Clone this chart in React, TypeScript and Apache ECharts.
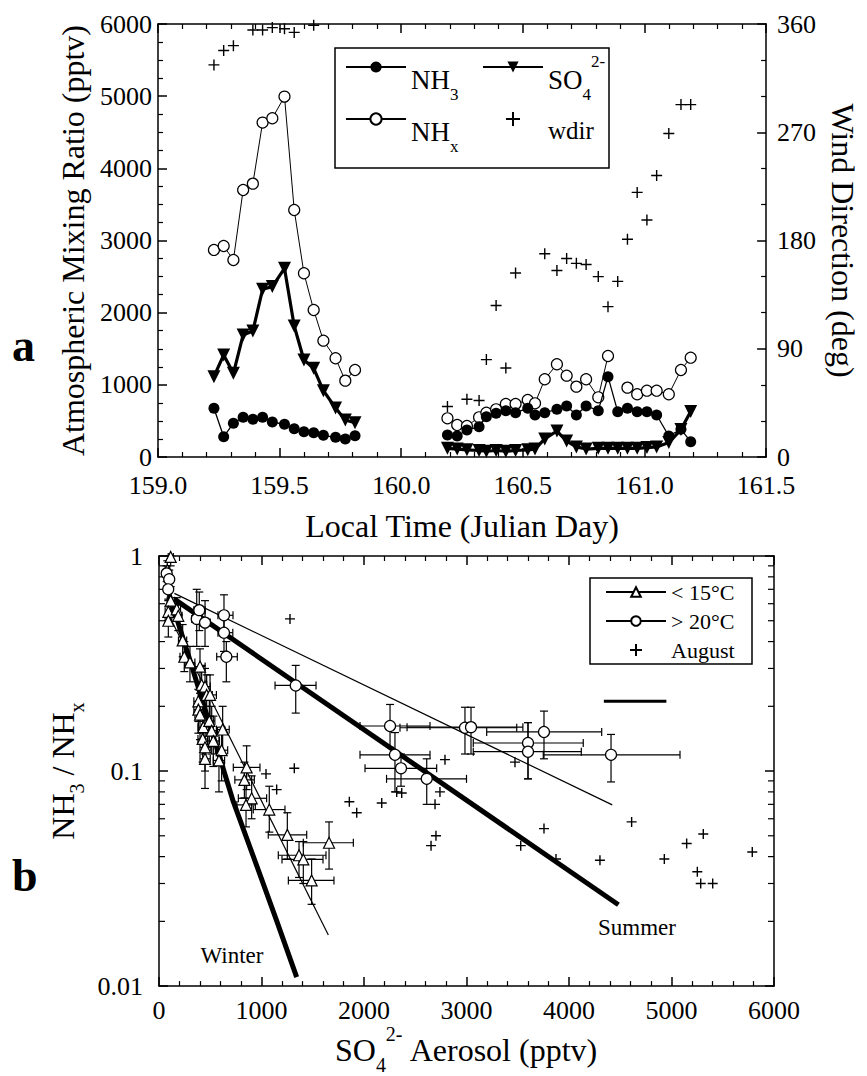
import React, { useEffect, useRef } from 'react';
import * as echarts from 'echarts';

const FONT = 'Liberation Serif, Times New Roman, serif';

// ---------------- Panel a : time series ----------------
const dayA1 = [159.23, 159.27, 159.31, 159.35, 159.39, 159.43, 159.47, 159.52, 159.56, 159.60, 159.64, 159.68, 159.73, 159.77, 159.81];
const nh3A1 = [675, 281, 467, 550, 522, 550, 485, 453, 392, 351, 337, 300, 273, 250, 296];
const nhxA1 = [2869, 2924, 2730, 3700, 3788, 4634, 4694, 4994, 3423, 2546, 2037, 1612, 1368, 1058, 1206];
const so4A1 = [1113, 1414, 1160, 1691, 1746, 2324, 2361, 2615, 1816, 1344, 1229, 919, 679, 513, 475];
const wdirA1 = [326, 338, 342, null, 355, 355, 357, 356, 353, null, 359, null, null, null, null];

const dayA2 = [160.19, 160.23, 160.27, 160.32, 160.35, 160.39, 160.43, 160.47, 160.52, 160.55, 160.59, 160.64, 160.68, 160.72, 160.76, 160.81, 160.85, 160.89, 160.93, 160.97, 161.01, 161.05, 161.10, 161.15, 161.19];
const nh3A2 = [305, 291, 374, 420, 559, 605, 642, 614, 675, 582, 614, 661, 707, 582, 707, 642, 1113, 628, 675, 628, 628, 582, 291, 383, 212];
const nhxA2 = [536, 443, 430, 550, 614, 661, 735, 735, 790, 744, 1077, 1285, 1127, 975, 1077, 827, 1400, null, 961, 869, 919, 919, 869, 1206, 1376];
const so4A2 = [120, 110, 100, 90, 80, 90, 80, 90, 100, 110, 250, 360, 220, 140, 110, 120, 120, 120, 120, 120, 130, 140, 200, 380, 630];
const wdirA2 = [42, null, 48, 47, 81, 126, 74, 153, null, null, 169, 155, 165, 161, 160, 150, 125, 146, 181, 220, 197, 234, 269, 293, 293];

// ---------------- Panel b : NH3/NHx vs SO4 ----------------
// rows: [SO4, ratio, SO4 low, SO4 high, ratio low, ratio high]
const coldPts = [
  [114, 0.99, 90, 140, 0.90, 1.0],
  [81, 0.86, 60, 105, 0.78, 0.95],
  [114, 0.62, 80, 150, 0.55, 0.72],
  [91, 0.55, 60, 120, 0.48, 0.63],
  [173, 0.565, 140, 210, 0.50, 0.64],
  [91, 0.50, 60, 125, 0.42, 0.58],
  [188, 0.527, 150, 225, 0.45, 0.60],
  [231, 0.405, 190, 270, 0.34, 0.48],
  [247, 0.34, 205, 290, 0.29, 0.40],
  [302, 0.32, 255, 350, 0.26, 0.38],
  [400, 0.306, 350, 450, 0.25, 0.37],
  [416, 0.252, 370, 465, 0.20, 0.31],
  [449, 0.247, 400, 500, 0.20, 0.30],
  [465, 0.226, 410, 520, 0.18, 0.28],
  [498, 0.226, 440, 560, 0.18, 0.28],
  [384, 0.211, 340, 430, 0.17, 0.26],
  [384, 0.193, 340, 430, 0.15, 0.24],
  [400, 0.183, 350, 450, 0.14, 0.23],
  [432, 0.16, 380, 485, 0.12, 0.20],
  [426, 0.141, 380, 475, 0.11, 0.18],
  [449, 0.129, 400, 500, 0.10, 0.165],
  [449, 0.114, 400, 500, 0.083, 0.145],
  [491, 0.171, 440, 545, 0.13, 0.22],
  [514, 0.154, 460, 570, 0.12, 0.20],
  [530, 0.138, 475, 590, 0.105, 0.18],
  [611, 0.125, 550, 670, 0.09, 0.16],
  [585, 0.112, 530, 640, 0.08, 0.15],
  [621, 0.156, 560, 685, 0.12, 0.20],
  [855, 0.104, 725, 985, 0.082, 0.131],
  [833, 0.091, 740, 930, 0.075, 0.11],
  [904, 0.0747, 774, 1050, 0.06, 0.095],
  [849, 0.0696, 760, 940, 0.055, 0.088],
  [1076, 0.0662, 920, 1229, 0.052, 0.085],
  [1252, 0.0505, 1066, 1441, 0.039, 0.064],
  [1366, 0.0406, 1164, 1629, 0.032, 0.047],
  [1408, 0.0388, 1200, 1600, 0.030, 0.047],
  [1489, 0.031, 1262, 1707, 0.024, 0.039],
  [1659, 0.0464, 1408, 1896, 0.035, 0.058],
];
const warmPts = [
  [75, 0.83, 40, 110, 0.76, 0.90],
  [100, 0.78, 60, 140, 0.70, 0.86],
  [90, 0.70, 50, 130, 0.62, 0.78],
  [368, 0.51, 320, 420, 0.38, 0.70],
  [393, 0.56, 340, 450, 0.45, 0.68],
  [449, 0.49, 400, 500, 0.38, 0.62],
  [634, 0.53, 575, 722, 0.44, 0.66],
  [634, 0.44, 575, 720, 0.36, 0.55],
  [657, 0.34, 563, 764, 0.26, 0.40],
  [1334, 0.25, 1132, 1532, 0.186, 0.31],
  [2254, 0.162, 1961, 2644, 0.129, 0.204],
  [2302, 0.119, 1961, 2644, 0.080, 0.151],
  [2361, 0.103, 2010, 2709, 0.085, 0.12],
  [2612, 0.092, 2220, 3000, 0.070, 0.114],
  [2985, 0.159, 2351, 3490, 0.12, 0.198],
  [3044, 0.160, 2420, 3550, 0.12, 0.198],
  [3600, 0.135, 3066, 4139, 0.092, 0.168],
  [3600, 0.123, 3066, 4120, 0.092, 0.168],
  [3756, 0.152, 3197, 4319, 0.114, 0.19],
  [4410, 0.119, 3749, 5083, 0.089, 0.148],
];
const augustPts = [
  [1044, 0.097], [1148, 0.082], [1320, 0.103], [1857, 0.072], [1929, 0.064], [2173, 0.071],
  [2319, 0.080], [2368, 0.079], [2790, 0.113], [2741, 0.080], [2693, 0.070], [2702, 0.050],
  [2654, 0.045], [1278, 0.51], [3473, 0.110], [3756, 0.054], [3529, 0.045], [3873, 0.039],
  [4302, 0.0385], [4611, 0.058], [4930, 0.039], [5148, 0.046], [5310, 0.051], [5252, 0.034],
  [5285, 0.030], [5402, 0.030], [5788, 0.042],
];
const winterFitThick = [[100, 0.66], [300, 0.33], [470, 0.18], [725, 0.072], [985, 0.033], [1150, 0.02], [1343, 0.011]];
const winterFitThin = [[80, 0.55], [1652, 0.0173]];
const summerFitThick = [[150, 0.63], [4482, 0.0239]];
const summerFitThin = [[150, 0.67], [4422, 0.0696]];
const strayBar = [[4340, 0.211], [4950, 0.211]];
const logMinorTicks = [0.02, 0.03, 0.04, 0.05, 0.06, 0.07, 0.08, 0.09, 0.2, 0.3, 0.4, 0.5, 0.6, 0.7, 0.8, 0.9];

const PLUS = 'path://M0,6L12,6M6,0L6,12';
const BLACK = '#000';
const AL = { color: BLACK, width: 1.5 };

function joinSeg(d1: number[], v1: (number | null)[], d2: number[], v2: (number | null)[]) {
  return [...d1.map((d, i) => [d, v1[i]]), [160.0, null], ...d2.map((d, i) => [d, v2[i]])];
}
function pts(d: number[], v: (number | null)[]) {
  return d.map((x, i) => [x, v[i]]).filter((p) => p[1] !== null);
}

const errRender = (params: any, api: any) => {
  const x = api.value(0), y = api.value(1);
  const xl = api.value(2), xh = api.value(3), yl = api.value(4), yh = api.value(5);
  const pl = api.coord([xl, y]), pr = api.coord([xh, y]);
  const pb = api.coord([x, yl]), pt = api.coord([x, yh]);
  const c = 4;
  const st = { stroke: BLACK, lineWidth: 1.2 };
  const L = (x1: number, y1: number, x2: number, y2: number) => ({ type: 'line', shape: { x1, y1, x2, y2 }, style: st });
  return {
    type: 'group',
    children: [
      L(pl[0], pl[1], pr[0], pr[1]),
      L(pl[0], pl[1] - c, pl[0], pl[1] + c),
      L(pr[0], pr[1] - c, pr[0], pr[1] + c),
      L(pb[0], pb[1], pt[0], pt[1]),
      L(pb[0] - c, pb[1], pb[0] + c, pb[1]),
      L(pt[0] - c, pt[1], pt[0] + c, pt[1]),
    ],
  };
};

const legendRich = {
  m: { fontSize: 27, fontFamily: FONT, color: BLACK, lineHeight: 28, verticalAlign: 'top', padding: [13, 0, 0, 0] },
  w: { fontSize: 25, fontFamily: FONT, color: BLACK, lineHeight: 28, verticalAlign: 'top', padding: [13, 0, 0, 0] },
  s: { fontSize: 17, fontFamily: FONT, color: BLACK, lineHeight: 17, verticalAlign: 'top', padding: [33, 0, 0, 0] },
  p: { fontSize: 17, fontFamily: FONT, color: BLACK, lineHeight: 17, verticalAlign: 'top', padding: [0, 0, 0, 0] },
};
const legendText: Record<string, string> = {
  NH3: '{m|NH}{s|3}',
  NHx: '{m|NH}{s|x}',
  SO4: '{m|SO}{s|4}{p|2-}',
  wdir: '{w|wdir}{s| }',
};

function tickLabel(margin: number, fmt: (v: number) => string) {
  return {
    color: BLACK, fontFamily: FONT, fontSize: 26, margin,
    formatter: (v: number) => `{t|${fmt(v)}}`,
    rich: { t: { fontFamily: FONT, fontSize: 26, color: BLACK } },
  };
}
const intFmt = (v: number) => String(Math.round(v));

function valueAxisBase(extra: any) {
  return {
    axisLine: { show: true, onZero: false, lineStyle: AL },
    axisTick: { show: true, inside: true, length: 9, lineStyle: AL },
    minorTick: { show: true, length: 5, lineStyle: { color: BLACK, width: 1.2 } },
    splitLine: { show: false },
    minorSplitLine: { show: false },
    ...extra,
  };
}

export default function App() {
  const ref = useRef<HTMLDivElement>(null);
  useEffect(() => {
    if (!ref.current) return;
    const chart = echarts.init(ref.current, null, { renderer: 'svg' });
    const option: any = {
      animation: false,
      backgroundColor: '#fff',
      textStyle: { fontFamily: FONT, color: BLACK },
      grid: [
        { left: 158, top: 24, width: 615, height: 433 },
        { left: 159, top: 556, width: 615, height: 436 },
      ],
      xAxis: [
        valueAxisBase({
          type: 'value', gridIndex: 0, position: 'bottom', min: 159, max: 161.5, interval: 0.5,
          minorTick: { show: true, splitNumber: 5, length: 5, lineStyle: { color: BLACK, width: 1.2 } },
          axisLabel: tickLabel(15, (v) => v.toFixed(1)),
          name: 'Local Time (Julian Day)', nameLocation: 'middle', nameGap: 53,
          nameTextStyle: { fontSize: 32, fontFamily: FONT, color: BLACK },
        }),
        valueAxisBase({
          type: 'value', gridIndex: 0, position: 'top', min: 159, max: 161.5, interval: 0.5,
          minorTick: { show: true, splitNumber: 5, length: 5, lineStyle: { color: BLACK, width: 1.2 } },
          axisLabel: { show: false },
        }),
        valueAxisBase({
          type: 'value', gridIndex: 1, position: 'bottom', min: 0, max: 6000, interval: 1000,
          minorTick: { show: true, splitNumber: 5, length: 5, lineStyle: { color: BLACK, width: 1.2 } },
          axisLabel: tickLabel(11, intFmt),
          name: '{m|SO}{s|4}{p|2-}{m| Aerosol (pptv)}', nameLocation: 'middle', nameGap: 36,
          nameTextStyle: {
            fontSize: 32, fontFamily: FONT, color: BLACK,
            rich: {
              m: { fontSize: 32, fontFamily: FONT, color: BLACK, lineHeight: 34, verticalAlign: 'top', padding: [10, 0, 0, 0] },
              s: { fontSize: 20, fontFamily: FONT, color: BLACK, lineHeight: 20, verticalAlign: 'top', padding: [31, 0, 0, 0] },
              p: { fontSize: 20, fontFamily: FONT, color: BLACK, lineHeight: 20, verticalAlign: 'top', padding: [0, 0, 0, 0] },
            },
          },
        }),
        valueAxisBase({
          type: 'value', gridIndex: 1, position: 'top', min: 0, max: 6000, interval: 1000,
          minorTick: { show: true, splitNumber: 5, length: 5, lineStyle: { color: BLACK, width: 1.2 } },
          axisLabel: { show: false },
        }),
      ],
      yAxis: [
        valueAxisBase({
          type: 'value', gridIndex: 0, position: 'left', min: 0, max: 6000, interval: 1000,
          minorTick: { show: true, splitNumber: 4, length: 5, lineStyle: { color: BLACK, width: 1.2 } },
          axisLabel: tickLabel(6, intFmt),
          name: 'Atmospheric Mixing Ratio (pptv)', nameLocation: 'middle', nameGap: 67, nameRotate: 90,
          nameTextStyle: { fontSize: 32, fontFamily: FONT, color: BLACK },
        }),
        valueAxisBase({
          type: 'value', gridIndex: 0, position: 'right', min: 0, max: 360, interval: 90,
          minorTick: { show: true, splitNumber: 3, length: 5, lineStyle: { color: BLACK, width: 1.2 } },
          axisLabel: tickLabel(11, intFmt),
          name: 'Wind Direction (deg)', nameLocation: 'middle', nameGap: 54, nameRotate: -90,
          nameTextStyle: { fontSize: 32, fontFamily: FONT, color: BLACK },
        }),
        {
          type: 'log', logBase: 10, gridIndex: 1, position: 'left', min: 0.01, max: 1,
          axisLine: { show: true, onZero: false, lineStyle: AL },
          axisTick: { show: true, inside: true, length: 9, lineStyle: AL },
          splitLine: { show: false },
          axisLabel: tickLabel(16, (v) => String(+v.toPrecision(1))),
          name: '{m|NH}{s|3}{m| / NH}{s|x}', nameLocation: 'middle', nameGap: 72, nameRotate: 90,
          nameTextStyle: {
            fontSize: 32, fontFamily: FONT, color: BLACK,
            rich: {
              m: { fontSize: 32, fontFamily: FONT, color: BLACK, lineHeight: 34, verticalAlign: 'top', padding: [0, 0, 0, 0] },
              s: { fontSize: 20, fontFamily: FONT, color: BLACK, lineHeight: 20, verticalAlign: 'top', padding: [20, 0, 0, 0] },
            },
          },
        },
        {
          type: 'log', logBase: 10, gridIndex: 1, position: 'right', min: 0.01, max: 1,
          axisLine: { show: true, onZero: false, lineStyle: AL },
          axisTick: { show: true, inside: true, length: 9, lineStyle: AL },
          splitLine: { show: false },
          axisLabel: { show: false },
        },
      ],
      legend: [
        {
          left: 345, top: 53, orient: 'vertical', itemWidth: 60, itemHeight: 14, itemGap: 2, padding: 0,
          selectedMode: false, data: ['NH3', 'NHx'],
          formatter: (n: string) => legendText[n], textStyle: { color: BLACK, fontFamily: FONT, rich: legendRich },
        },
        {
          left: 482, top: 53, orient: 'vertical', itemWidth: 60, itemHeight: 14, itemGap: 2, padding: 0,
          selectedMode: false, data: ['SO4', 'wdir'],
          formatter: (n: string) => legendText[n], textStyle: { color: BLACK, fontFamily: FONT, rich: legendRich },
        },
        {
          left: 605, top: 579, orient: 'vertical', itemWidth: 60, itemHeight: 12, itemGap: 3, padding: 0,
          selectedMode: false, data: ['< 15°C', '> 20°C', 'August'],
          formatter: (n: string) => `{t|${n}}`,
          textStyle: { color: BLACK, fontFamily: FONT, fontSize: 22, lineHeight: 26, rich: { t: { fontFamily: FONT, fontSize: 22, color: BLACK, lineHeight: 26 } } },
        },
      ],
      graphic: [
        { type: 'rect', shape: { x: 335, y: 48, width: 274, height: 120 }, style: { fill: 'none', stroke: BLACK, lineWidth: 1.5 }, z: 10 },
        { type: 'rect', shape: { x: 590, y: 578, width: 162, height: 86 }, style: { fill: 'none', stroke: BLACK, lineWidth: 1.5 }, z: 10 },
        { type: 'text', left: 12, top: 322, style: { text: 'a', font: `bold 46px ${FONT}`, fill: BLACK } },
        { type: 'text', left: 12, top: 852, style: { text: 'b', font: `bold 46px ${FONT}`, fill: BLACK } },
        { type: 'text', x: 232, y: 955, style: { text: 'Winter', font: `23px ${FONT}`, fill: BLACK, align: 'center', verticalAlign: 'middle' } },
        { type: 'text', x: 637, y: 927, style: { text: 'Summer', font: `23px ${FONT}`, fill: BLACK, align: 'center', verticalAlign: 'middle' } },
      ],
      series: [
        // ---- panel a ----
        {
          name: 'NHx', type: 'line', xAxisIndex: 0, yAxisIndex: 0, data: joinSeg(dayA1, nhxA1, dayA2, nhxA2),
          symbol: 'circle', symbolSize: 11, connectNulls: false,
          itemStyle: { color: '#fff', borderColor: BLACK, borderWidth: 1.2, opacity: 1 },
          lineStyle: { color: BLACK, width: 1 }, z: 3,
        },
        {
          name: 'SO4', type: 'line', xAxisIndex: 0, yAxisIndex: 0, data: joinSeg(dayA1, so4A1, dayA2, so4A2),
          symbol: 'triangle', symbolRotate: 180, symbolSize: 13, connectNulls: false,
          itemStyle: { color: BLACK, opacity: 1 }, lineStyle: { color: BLACK, width: 3.2 }, z: 4,
        },
        {
          name: 'NH3', type: 'line', xAxisIndex: 0, yAxisIndex: 0, data: joinSeg(dayA1, nh3A1, dayA2, nh3A2),
          symbol: 'circle', symbolSize: 11, connectNulls: false,
          itemStyle: { color: BLACK, opacity: 1 }, lineStyle: { color: BLACK, width: 1.3 }, z: 5,
        },
        {
          name: 'wdir', type: 'scatter', xAxisIndex: 0, yAxisIndex: 1,
          data: [...pts(dayA1, wdirA1), ...pts(dayA2, wdirA2)],
          symbol: PLUS, symbolSize: 11,
          itemStyle: { color: 'transparent', borderColor: BLACK, borderWidth: 1.4, opacity: 1 }, z: 6,
        },
        // ---- panel b ----
        {
          type: 'custom', xAxisIndex: 2, yAxisIndex: 2, data: logMinorTicks.map((v) => [0, v]),
          encode: { x: 0, y: 1 }, silent: true, clip: false,
          renderItem: (params: any, api: any) => {
            const v = api.value(1);
            const l = api.coord([0, v]);
            const r = api.coord([6000, v]);
            const st = { stroke: BLACK, lineWidth: 1.2 };
            return {
              type: 'group',
              children: [
                { type: 'line', shape: { x1: l[0], y1: l[1], x2: l[0] + 6, y2: l[1] }, style: st },
                { type: 'line', shape: { x1: r[0] - 6, y1: r[1], x2: r[0], y2: r[1] }, style: st },
              ],
            };
          },
        },
        {
          type: 'line', xAxisIndex: 2, yAxisIndex: 2, data: summerFitThin, symbol: 'none',
          lineStyle: { color: BLACK, width: 1.2 }, z: 2, silent: true,
        },
        {
          type: 'line', xAxisIndex: 2, yAxisIndex: 2, data: summerFitThick, symbol: 'none',
          lineStyle: { color: BLACK, width: 5 }, z: 2, silent: true,
        },
        {
          type: 'line', xAxisIndex: 2, yAxisIndex: 2, data: winterFitThin, symbol: 'none',
          lineStyle: { color: BLACK, width: 1.2 }, z: 2, silent: true,
        },
        {
          type: 'line', xAxisIndex: 2, yAxisIndex: 2, data: winterFitThick, symbol: 'none',
          lineStyle: { color: BLACK, width: 5 }, z: 2, silent: true,
        },
        {
          type: 'line', xAxisIndex: 2, yAxisIndex: 2, data: strayBar, symbol: 'none',
          lineStyle: { color: BLACK, width: 3 }, z: 2, silent: true,
        },
        {
          type: 'custom', xAxisIndex: 2, yAxisIndex: 2, data: coldPts, encode: { x: 0, y: 1 },
          renderItem: errRender, z: 3, silent: true,
        },
        {
          type: 'custom', xAxisIndex: 2, yAxisIndex: 2, data: warmPts, encode: { x: 0, y: 1 },
          renderItem: errRender, z: 3, silent: true,
        },
        {
          name: 'August', type: 'scatter', xAxisIndex: 2, yAxisIndex: 2, data: augustPts,
          symbol: PLUS, symbolSize: 10,
          itemStyle: { color: 'transparent', borderColor: BLACK, borderWidth: 1.4, opacity: 1 }, z: 4,
        },
        {
          type: 'scatter', xAxisIndex: 2, yAxisIndex: 2, data: coldPts.map((p) => [p[0], p[1]]),
          symbol: 'triangle', symbolSize: 11,
          itemStyle: { color: '#fff', borderColor: BLACK, borderWidth: 1.2, opacity: 1 }, z: 5,
        },
        {
          type: 'scatter', xAxisIndex: 2, yAxisIndex: 2, data: warmPts.map((p) => [p[0], p[1]]),
          symbol: 'circle', symbolSize: 11,
          itemStyle: { color: '#fff', borderColor: BLACK, borderWidth: 1.2, opacity: 1 }, z: 5,
        },
        // legend-only entries
        {
          name: '< 15°C', type: 'line', xAxisIndex: 2, yAxisIndex: 2, data: [],
          symbol: 'triangle', symbolSize: 10,
          itemStyle: { color: '#fff', borderColor: BLACK, borderWidth: 1.2, opacity: 1 }, lineStyle: { color: BLACK, width: 1.2 },
        },
        {
          name: '> 20°C', type: 'line', xAxisIndex: 2, yAxisIndex: 2, data: [],
          symbol: 'circle', symbolSize: 10,
          itemStyle: { color: '#fff', borderColor: BLACK, borderWidth: 1.2, opacity: 1 }, lineStyle: { color: BLACK, width: 1.2 },
        },
      ],
    };
    chart.setOption(option);
    return () => chart.dispose();
  }, []);
  return <div ref={ref} style={{ position: 'absolute', left: 0, top: 0, width: 867, height: 1076, background: '#fff' }} />;
}
